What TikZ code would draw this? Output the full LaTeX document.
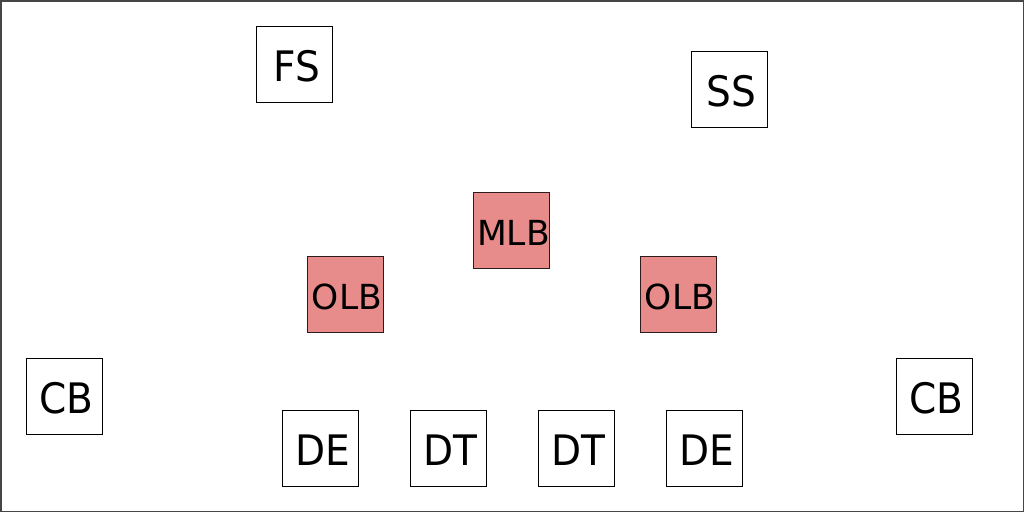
\documentclass[tikz,border=0pt]{standalone}
\usepackage{graphicx}
\usepackage{fontspec}
\setmainfont{DejaVu Sans}
\definecolor{lbred}{RGB}{232,139,139}
\definecolor{framegray}{RGB}{70,70,70}
\newcommand{\twolet}[1]{\hspace*{5pt}\raisebox{-2pt}{\scalebox{0.93}[1]{#1}}}
\newcommand{\threelet}[1]{\hspace*{4pt}\raisebox{-3pt}{#1}}
\tikzset{
  playerbox/.style={draw=black, line width=1pt, minimum size=76pt, inner sep=0pt,
    font=\fontsize{42}{42}\selectfont, text height=30.6pt, text depth=0pt},
  lbbox/.style={playerbox, fill=lbred, draw=black!80!lbred,
    font=\fontsize{34.5}{34.5}\selectfont, text height=25.2pt}
}
\begin{document}
\begin{tikzpicture}[x=1pt,y=-1pt]
\useasboundingbox (0,0) rectangle (1024,512);
\draw[framegray, line width=1.5pt] (0.75,0.75) rectangle (1023.25,511.25);
\node[playerbox] (fs) at (294,64) {\twolet{FS}};
\node[playerbox] (ss) at (729,89) {\twolet{SS}};
\node[lbbox] (mlb) at (511.5,230) {\threelet{MLB}};
\node[lbbox] (olbl) at (345,294) {\threelet{OLB}};
\node[lbbox] (olbr) at (678,294) {\threelet{OLB}};
\node[playerbox] (cbl) at (64,396) {\twolet{CB}};
\node[playerbox] (cbr) at (934,396) {\twolet{CB}};
\node[playerbox] (del) at (320,448) {\twolet{DE}};
\node[playerbox] (dtl) at (448,448) {\twolet{DT}};
\node[playerbox] (dtr) at (576,448) {\twolet{DT}};
\node[playerbox] (der) at (704,448) {\twolet{DE}};
\end{tikzpicture}
\end{document}
